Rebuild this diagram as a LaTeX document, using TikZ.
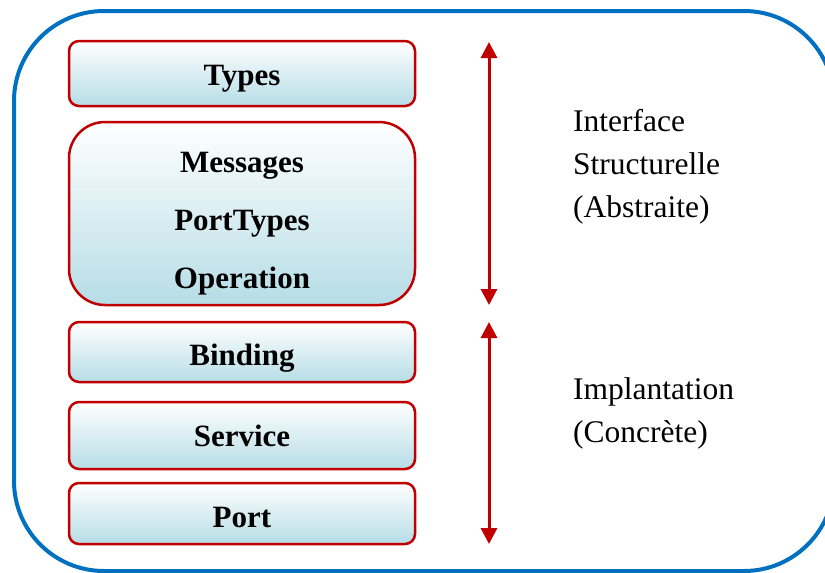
\documentclass[tikz,border=0pt]{standalone}
\usepackage{fontspec}
\setmainfont{Liberation Serif}
\usetikzlibrary{arrows.meta}

\definecolor{framblue}{RGB}{0,112,192}
\definecolor{boxred}{RGB}{192,0,0}
\definecolor{boxfill}{RGB}{182,221,230}

\tikzset{
  layerbox/.style={draw=boxred, line width=2.5pt, rounded corners=10pt,
    top color=white, bottom color=boxfill, minimum width=346pt, inner sep=0pt},
  layertext/.style={anchor=base, font=\fontsize{31}{36}\selectfont\bfseries, inner sep=0pt},
  sidetext/.style={anchor=base west, font=\fontsize{31.5}{36}\selectfont, inner sep=0pt},
  span/.style={draw=boxred, line width=3pt,
    {Triangle[width=16pt,length=16pt]}-{Triangle[width=16pt,length=16pt]}}
}

\begin{document}
\begin{tikzpicture}[x=1pt,y=-1pt]
  \useasboundingbox (0,0) rectangle (825,573);
  \clip (0,0) rectangle (825,573);

  % outer frame
  \draw[framblue, line width=4pt, rounded corners=90pt] (14,11) rectangle (834,571);

  % layers
  \node[layerbox, minimum height=65pt] (types) at (242,73.5) {};
  \node[layerbox, minimum height=183pt, rounded corners=36pt] (abstract) at (242,213.5) {};
  \node[layerbox, minimum height=60pt] (binding) at (242,352) {};
  \node[layerbox, minimum height=67pt] (service) at (242,435.5) {};
  \node[layerbox, minimum height=61pt] (port) at (242,513.5) {};

  \node[layertext] (ttypes) at (242,85) {Types};
  \node[layertext] (tmsg) at (242,172) {Messages};
  \node[layertext] (tpt) at (242,230) {PortTypes};
  \node[layertext] (top) at (242,288) {Operation};
  \node[layertext] (tbind) at (242,365) {Binding};
  \node[layertext] (tserv) at (242,446) {Service};
  \node[layertext] (tport) at (242,527) {Port};

  % extent arrows
  \coordinate (abstop) at (489,42);
  \coordinate (absbot) at (489,305);
  \coordinate (imptop) at (489,322);
  \coordinate (impbot) at (489,544);
  \draw[span] (abstop) -- (absbot);
  \draw[span] (imptop) -- (impbot);

  % side labels
  \node[sidetext] (l1) at (573,131) {Interface};
  \node[sidetext] (l2) at (573,174) {Structurelle};
  \node[sidetext] (l3) at (573,217) {(Abstraite)};
  \node[sidetext] (l4) at (573,399) {Implantation};
  \node[sidetext] (l5) at (573,442) {(Concrète)};
\end{tikzpicture}
\end{document}
